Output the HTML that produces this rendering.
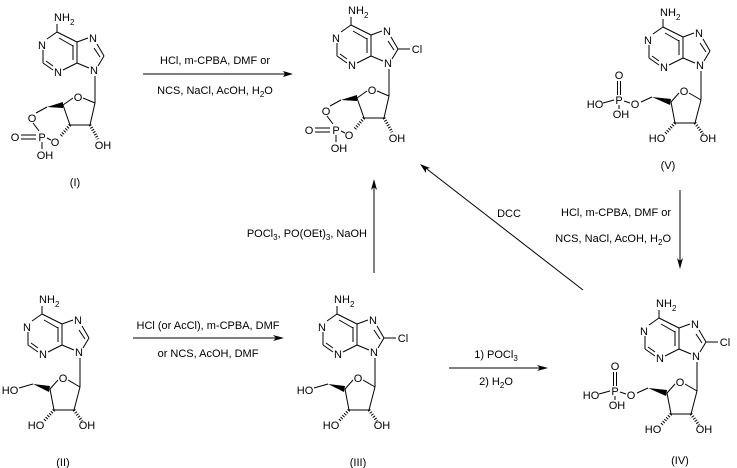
<!DOCTYPE html>
<html><head><meta charset="utf-8"><style>
html,body{margin:0;padding:0;background:#fff;}
svg{display:block;font-family:"Liberation Sans",Arial,sans-serif;font-size:11px;}
line,polyline{stroke:#000;stroke-width:1;fill:none;}
.h{stroke-width:3;stroke-dasharray:1 1.6;}
text{fill:#000;}
</style></head><body>
<svg width="737" height="468" viewBox="0 0 737 468" xmlns="http://www.w3.org/2000/svg">

<!-- (I) -->
<g transform="translate(0,0)">
 <text x="54" y="21">NH</text><text x="70" y="25" font-size="8">2</text>
 <text x="42" y="49" text-anchor="middle">N</text>
 <text x="58" y="76" text-anchor="middle">N</text>
 <text x="93" y="42" text-anchor="middle">N</text>
 <text x="94" y="74" text-anchor="middle">N</text>
 <line x1="57" y1="32" x2="57" y2="24"/>
 <line x1="57" y1="32" x2="47" y2="39"/>
 <line x1="43" y1="50" x2="43" y2="63"/>
 <line x1="43" y1="63" x2="53" y2="70"/><line x1="46" y1="61" x2="53" y2="66"/>
 <line x1="63" y1="70" x2="77" y2="63"/>
 <line x1="77" y1="63" x2="77" y2="42"/><line x1="73" y1="60" x2="73" y2="45"/>
 <line x1="77" y1="42" x2="57" y2="32"/><line x1="73" y1="46" x2="59" y2="38"/>
 <line x1="77" y1="42" x2="88" y2="38"/>
 <line x1="97" y1="44" x2="104" y2="56"/><line x1="94" y1="48" x2="100" y2="57"/>
 <line x1="104" y1="56" x2="98" y2="66"/>
 <line x1="89" y1="68" x2="77" y2="63"/>
 <line x1="95" y1="76" x2="95" y2="103"/>
 <text x="78" y="101" text-anchor="middle">O</text>
 <line x1="95" y1="103" x2="83" y2="98"/>
 <line x1="73" y1="98" x2="63" y2="105"/>
 <line x1="63" y1="105" x2="70" y2="125"/>
 <line x1="70" y1="125" x2="90" y2="125"/>
 <line x1="90" y1="125" x2="95" y2="103"/>
 <line class="h" x1="90" y1="125" x2="98" y2="139"/>
 <text x="103" y="149" text-anchor="middle">OH</text>
 <line class="h" x1="70" y1="125" x2="60" y2="137"/>
 <text x="55" y="146" text-anchor="middle">O</text>
 <polygon points="47,107 63,102 63,108" fill="#000"/>
 <line x1="47" y1="107" x2="36" y2="113"/>
 <text x="32" y="122" text-anchor="middle">O</text>
 <line x1="33" y1="123" x2="39" y2="131"/>
 <text x="42" y="141" text-anchor="middle">P</text>
 <line x1="47" y1="138" x2="51" y2="140"/>
 <text x="15" y="141" text-anchor="middle">O</text>
 <line x1="21" y1="135" x2="36" y2="135"/><line x1="21" y1="139" x2="36" y2="139"/>
 <line x1="42" y1="142" x2="42" y2="149"/>
 <text x="45" y="159" text-anchor="middle">OH</text>
</g>
<text x="75" y="186" text-anchor="middle">(I)</text>

<!-- top centre product -->
<g transform="translate(294,-7)">
 <text x="54" y="21">NH</text><text x="70" y="25" font-size="8">2</text>
 <text x="42" y="49" text-anchor="middle">N</text>
 <text x="58" y="76" text-anchor="middle">N</text>
 <text x="93" y="42" text-anchor="middle">N</text>
 <text x="94" y="74" text-anchor="middle">N</text>
 <line x1="57" y1="32" x2="57" y2="24"/>
 <line x1="57" y1="32" x2="47" y2="39"/>
 <line x1="43" y1="50" x2="43" y2="63"/>
 <line x1="43" y1="63" x2="53" y2="70"/><line x1="46" y1="61" x2="53" y2="66"/>
 <line x1="63" y1="70" x2="77" y2="63"/>
 <line x1="77" y1="63" x2="77" y2="42"/><line x1="73" y1="60" x2="73" y2="45"/>
 <line x1="77" y1="42" x2="57" y2="32"/><line x1="73" y1="46" x2="59" y2="38"/>
 <line x1="77" y1="42" x2="88" y2="38"/>
 <line x1="97" y1="44" x2="104" y2="56"/><line x1="94" y1="48" x2="100" y2="57"/>
 <line x1="104" y1="56" x2="98" y2="66"/>
 <line x1="89" y1="68" x2="77" y2="63"/>
 <line x1="104" y1="56" x2="116" y2="56"/>
 <text x="123" y="60" text-anchor="middle">Cl</text>
 <line x1="95" y1="76" x2="95" y2="103"/>
 <text x="78" y="101" text-anchor="middle">O</text>
 <line x1="95" y1="103" x2="83" y2="98"/>
 <line x1="73" y1="98" x2="63" y2="105"/>
 <line x1="63" y1="105" x2="70" y2="125"/>
 <line x1="70" y1="125" x2="90" y2="125"/>
 <line x1="90" y1="125" x2="95" y2="103"/>
 <line class="h" x1="90" y1="125" x2="98" y2="139"/>
 <text x="103" y="149" text-anchor="middle">OH</text>
 <line class="h" x1="70" y1="125" x2="60" y2="137"/>
 <text x="55" y="146" text-anchor="middle">O</text>
 <polygon points="47,107 63,102 63,108" fill="#000"/>
 <line x1="47" y1="107" x2="36" y2="113"/>
 <text x="32" y="122" text-anchor="middle">O</text>
 <line x1="33" y1="123" x2="39" y2="131"/>
 <text x="42" y="141" text-anchor="middle">P</text>
 <line x1="47" y1="138" x2="51" y2="140"/>
 <text x="15" y="141" text-anchor="middle">O</text>
 <line x1="21" y1="135" x2="36" y2="135"/><line x1="21" y1="139" x2="36" y2="139"/>
 <line x1="42" y1="142" x2="42" y2="149"/>
 <text x="45" y="159" text-anchor="middle">OH</text>
</g>

<!-- (V) -->
<g transform="translate(606,-5)">
 <text x="54" y="21">NH</text><text x="70" y="25" font-size="8">2</text>
 <text x="42" y="49" text-anchor="middle">N</text>
 <text x="58" y="76" text-anchor="middle">N</text>
 <text x="93" y="42" text-anchor="middle">N</text>
 <text x="94" y="74" text-anchor="middle">N</text>
 <line x1="57" y1="32" x2="57" y2="24"/>
 <line x1="57" y1="32" x2="47" y2="39"/>
 <line x1="43" y1="50" x2="43" y2="63"/>
 <line x1="43" y1="63" x2="53" y2="70"/><line x1="46" y1="61" x2="53" y2="66"/>
 <line x1="63" y1="70" x2="77" y2="63"/>
 <line x1="77" y1="63" x2="77" y2="42"/><line x1="73" y1="60" x2="73" y2="45"/>
 <line x1="77" y1="42" x2="57" y2="32"/><line x1="73" y1="46" x2="59" y2="38"/>
 <line x1="77" y1="42" x2="88" y2="38"/>
 <line x1="97" y1="44" x2="104" y2="56"/><line x1="94" y1="48" x2="100" y2="57"/>
 <line x1="104" y1="56" x2="98" y2="66"/>
 <line x1="89" y1="68" x2="77" y2="63"/>
 <line x1="95" y1="76" x2="95" y2="105"/>
 <text x="78" y="100" text-anchor="middle">O</text>
 <line x1="95" y1="105" x2="83" y2="98"/>
 <line x1="73" y1="98" x2="65" y2="107"/>
 <line x1="65" y1="107" x2="69" y2="128"/>
 <line x1="69" y1="128" x2="89" y2="128"/>
 <line x1="89" y1="128" x2="95" y2="105"/>
 <line class="h" x1="89" y1="128" x2="97" y2="139"/>
 <text x="102" y="147" text-anchor="middle">OH</text>
 <line class="h" x1="69" y1="128" x2="59" y2="139"/>
 <text x="51" y="147" text-anchor="middle">HO</text>
 <polygon points="46,102 65,104 64,110" fill="#000"/>
 <line x1="46" y1="102" x2="35" y2="107"/>
 <text x="29" y="113" text-anchor="middle">O</text>
 <line x1="24" y1="108" x2="18" y2="106"/>
 <text x="13" y="109" text-anchor="middle">P</text>
 <text x="13" y="84" text-anchor="middle">O</text>
 <line x1="11.5" y1="86" x2="11.5" y2="100"/><line x1="14.5" y1="86" x2="14.5" y2="100"/>
 <line x1="-3" y1="108" x2="8" y2="105"/>
 <text x="-11" y="113" text-anchor="middle">HO</text>
 <line x1="13" y1="110" x2="13" y2="114"/>
 <text x="15" y="123" text-anchor="middle">OH</text>
</g>
<text x="668" y="169" text-anchor="middle">(V)</text>

<!-- (II) -->
<g transform="translate(-15,282)">
 <text x="54" y="21">NH</text><text x="70" y="25" font-size="8">2</text>
 <text x="42" y="49" text-anchor="middle">N</text>
 <text x="58" y="76" text-anchor="middle">N</text>
 <text x="93" y="42" text-anchor="middle">N</text>
 <text x="94" y="74" text-anchor="middle">N</text>
 <line x1="57" y1="32" x2="57" y2="24"/>
 <line x1="57" y1="32" x2="47" y2="39"/>
 <line x1="43" y1="50" x2="43" y2="63"/>
 <line x1="43" y1="63" x2="53" y2="70"/><line x1="46" y1="61" x2="53" y2="66"/>
 <line x1="63" y1="70" x2="77" y2="63"/>
 <line x1="77" y1="63" x2="77" y2="42"/><line x1="73" y1="60" x2="73" y2="45"/>
 <line x1="77" y1="42" x2="57" y2="32"/><line x1="73" y1="46" x2="59" y2="38"/>
 <line x1="77" y1="42" x2="88" y2="38"/>
 <line x1="97" y1="44" x2="104" y2="56"/><line x1="94" y1="48" x2="100" y2="57"/>
 <line x1="104" y1="56" x2="98" y2="66"/>
 <line x1="89" y1="68" x2="77" y2="63"/>
 <line x1="95" y1="76" x2="95" y2="105"/>
 <text x="78" y="100" text-anchor="middle">O</text>
 <line x1="95" y1="105" x2="83" y2="98"/>
 <line x1="73" y1="98" x2="65" y2="107"/>
 <line x1="65" y1="107" x2="69" y2="128"/>
 <line x1="69" y1="128" x2="89" y2="128"/>
 <line x1="89" y1="128" x2="95" y2="105"/>
 <line class="h" x1="89" y1="128" x2="97" y2="139"/>
 <text x="102" y="147" text-anchor="middle">OH</text>
 <line class="h" x1="69" y1="128" x2="59" y2="139"/>
 <text x="51" y="147" text-anchor="middle">HO</text>
 <polygon points="48,102 65,104 64,110" fill="#000"/>
 <line x1="48" y1="102" x2="34" y2="106"/>
 <text x="25" y="112" text-anchor="middle">HO</text>
</g>
<text x="63" y="466" text-anchor="middle">(II)</text>

<!-- (III) -->
<g transform="translate(280,282)">
 <text x="54" y="21">NH</text><text x="70" y="25" font-size="8">2</text>
 <text x="42" y="49" text-anchor="middle">N</text>
 <text x="58" y="76" text-anchor="middle">N</text>
 <text x="93" y="42" text-anchor="middle">N</text>
 <text x="94" y="74" text-anchor="middle">N</text>
 <line x1="57" y1="32" x2="57" y2="24"/>
 <line x1="57" y1="32" x2="47" y2="39"/>
 <line x1="43" y1="50" x2="43" y2="63"/>
 <line x1="43" y1="63" x2="53" y2="70"/><line x1="46" y1="61" x2="53" y2="66"/>
 <line x1="63" y1="70" x2="77" y2="63"/>
 <line x1="77" y1="63" x2="77" y2="42"/><line x1="73" y1="60" x2="73" y2="45"/>
 <line x1="77" y1="42" x2="57" y2="32"/><line x1="73" y1="46" x2="59" y2="38"/>
 <line x1="77" y1="42" x2="88" y2="38"/>
 <line x1="97" y1="44" x2="104" y2="56"/><line x1="94" y1="48" x2="100" y2="57"/>
 <line x1="104" y1="56" x2="98" y2="66"/>
 <line x1="89" y1="68" x2="77" y2="63"/>
 <line x1="104" y1="56" x2="116" y2="56"/>
 <text x="123" y="60" text-anchor="middle">Cl</text>
 <line x1="95" y1="76" x2="95" y2="105"/>
 <text x="78" y="100" text-anchor="middle">O</text>
 <line x1="95" y1="105" x2="83" y2="98"/>
 <line x1="73" y1="98" x2="65" y2="107"/>
 <line x1="65" y1="107" x2="69" y2="128"/>
 <line x1="69" y1="128" x2="89" y2="128"/>
 <line x1="89" y1="128" x2="95" y2="105"/>
 <line class="h" x1="89" y1="128" x2="97" y2="139"/>
 <text x="102" y="147" text-anchor="middle">OH</text>
 <line class="h" x1="69" y1="128" x2="59" y2="139"/>
 <text x="51" y="147" text-anchor="middle">HO</text>
 <polygon points="48,102 65,104 64,110" fill="#000"/>
 <line x1="48" y1="102" x2="34" y2="106"/>
 <text x="25" y="112" text-anchor="middle">HO</text>
</g>
<text x="358" y="466" text-anchor="middle">(III)</text>

<!-- (IV) -->
<g transform="translate(602,286)">
 <text x="54" y="21">NH</text><text x="70" y="25" font-size="8">2</text>
 <text x="42" y="49" text-anchor="middle">N</text>
 <text x="58" y="76" text-anchor="middle">N</text>
 <text x="93" y="42" text-anchor="middle">N</text>
 <text x="94" y="74" text-anchor="middle">N</text>
 <line x1="57" y1="32" x2="57" y2="24"/>
 <line x1="57" y1="32" x2="47" y2="39"/>
 <line x1="43" y1="50" x2="43" y2="63"/>
 <line x1="43" y1="63" x2="53" y2="70"/><line x1="46" y1="61" x2="53" y2="66"/>
 <line x1="63" y1="70" x2="77" y2="63"/>
 <line x1="77" y1="63" x2="77" y2="42"/><line x1="73" y1="60" x2="73" y2="45"/>
 <line x1="77" y1="42" x2="57" y2="32"/><line x1="73" y1="46" x2="59" y2="38"/>
 <line x1="77" y1="42" x2="88" y2="38"/>
 <line x1="97" y1="44" x2="104" y2="56"/><line x1="94" y1="48" x2="100" y2="57"/>
 <line x1="104" y1="56" x2="98" y2="66"/>
 <line x1="89" y1="68" x2="77" y2="63"/>
 <line x1="104" y1="56" x2="116" y2="56"/>
 <text x="123" y="60" text-anchor="middle">Cl</text>
 <line x1="95" y1="76" x2="95" y2="105"/>
 <text x="78" y="100" text-anchor="middle">O</text>
 <line x1="95" y1="105" x2="83" y2="98"/>
 <line x1="73" y1="98" x2="65" y2="107"/>
 <line x1="65" y1="107" x2="69" y2="128"/>
 <line x1="69" y1="128" x2="89" y2="128"/>
 <line x1="89" y1="128" x2="95" y2="105"/>
 <line class="h" x1="89" y1="128" x2="97" y2="139"/>
 <text x="102" y="147" text-anchor="middle">OH</text>
 <line class="h" x1="69" y1="128" x2="59" y2="139"/>
 <text x="51" y="147" text-anchor="middle">HO</text>
 <polygon points="46,102 65,104 64,110" fill="#000"/>
 <line x1="46" y1="102" x2="35" y2="107"/>
 <text x="29" y="113" text-anchor="middle">O</text>
 <line x1="24" y1="108" x2="18" y2="106"/>
 <text x="13" y="109" text-anchor="middle">P</text>
 <text x="13" y="84" text-anchor="middle">O</text>
 <line x1="11.5" y1="86" x2="11.5" y2="100"/><line x1="14.5" y1="86" x2="14.5" y2="100"/>
 <line x1="-3" y1="108" x2="8" y2="105"/>
 <text x="-11" y="113" text-anchor="middle">HO</text>
 <line x1="13" y1="110" x2="13" y2="114"/>
 <text x="15" y="123" text-anchor="middle">OH</text>
</g>
<text x="680" y="464" text-anchor="middle">(IV)</text>

<!-- arrows -->
<line x1="143" y1="74" x2="290" y2="74"/>
<polygon points="293,74 283,71 285,74 283,77" fill="#000"/>
<text x="215" y="64" text-anchor="middle">HCl, m-CPBA, DMF  or</text>
<text x="215" y="94" text-anchor="middle">NCS, NaCl, AcOH, H<tspan font-size="8" dy="3">2</tspan><tspan dy="-3">O</tspan></text>

<line x1="374" y1="273" x2="374" y2="183"/>
<polygon points="374,179 371,190 374,187 377,190" fill="#000"/>
<text x="367" y="237" text-anchor="end">POCl<tspan font-size="8" dy="3">3</tspan><tspan dy="-3">, PO(OEt)</tspan><tspan font-size="8" dy="3">3</tspan><tspan dy="-3">, NaOH</tspan></text>

<line x1="583" y1="290" x2="423" y2="166"/>
<polygon points="420,164 426,173 426,169 430,168" fill="#000"/>
<text x="509" y="217" text-anchor="middle">DCC</text>

<line x1="680" y1="190" x2="680" y2="265"/>
<polygon points="680,269 677,258 680,261 683,258" fill="#000"/>
<text x="671" y="216" text-anchor="end">HCl, m-CPBA, DMF or</text>
<text x="671" y="242" text-anchor="end">NCS, NaCl, AcOH, H<tspan font-size="8" dy="3">2</tspan><tspan dy="-3">O</tspan></text>

<line x1="133" y1="338" x2="280" y2="338"/>
<polygon points="284,338 273,335 276,338 273,341" fill="#000"/>
<text x="208" y="329" text-anchor="middle">HCl (or AcCl), m-CPBA, DMF</text>
<text x="208" y="357" text-anchor="middle">or NCS, AcOH, DMF</text>

<line x1="449" y1="368" x2="544" y2="368"/>
<polygon points="548,368 537,365 540,368 537,371" fill="#000"/>
<text x="496" y="358" text-anchor="middle">1) POCl<tspan font-size="8" dy="3">3</tspan></text>
<text x="496" y="385" text-anchor="middle">2) H<tspan font-size="8" dy="3">2</tspan><tspan dy="-3">O</tspan></text>
</svg>
</body></html>
